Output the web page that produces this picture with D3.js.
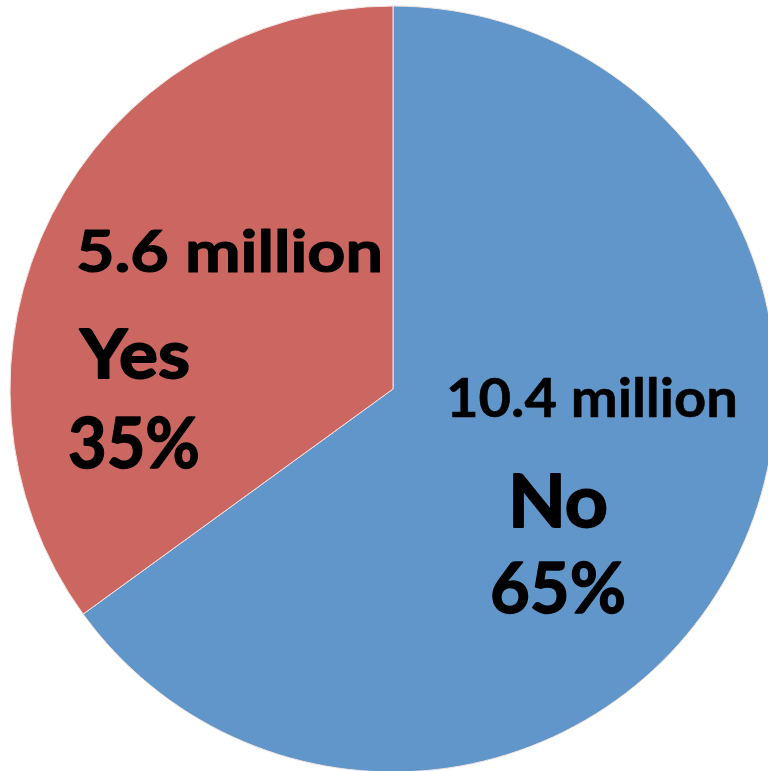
<!DOCTYPE html>
<html>
<head>
<meta charset="utf-8">
<script src="https://cdn.jsdelivr.net/npm/d3@7"></script>
<style>
  html, body { margin: 0; padding: 0; background: #fff; }
  svg text { font-family: Lato, "Open Sans", sans-serif; font-weight: 700; fill: #000; stroke: #000; stroke-linejoin: round; }
</style>
</head>
<body>
<svg id="chart" width="768" height="771"></svg>
<script>
// Answer categories, counts (millions) and share labels
const categories = ["No", "Yes"];
const millions = [10.4, 5.6];
const percentLabels = ["65%", "35%"];
const countLabels = ["10.4 million", "5.6 million"];
const colors = ["#6096C9", "#CC6660"];

const svg = d3.select("#chart");
const cx = 393, cy = 389, radius = 383;

const g = svg.append("g").attr("transform", `translate(${cx},${cy})`);

const pie = d3.pie().sort(null).value(d => d.value);
const arc = d3.arc().innerRadius(0).outerRadius(radius);

const data = categories.map((c, i) => ({ name: c, value: millions[i], pct: percentLabels[i], count: countLabels[i], color: colors[i] }));

g.selectAll("path.slice")
  .data(pie(data))
  .join("path")
  .attr("class", "slice")
  .attr("d", arc)
  .attr("fill", d => d.data.color)
  .attr("stroke", "#f4e4e4")
  .attr("stroke-width", 1);

// Label blocks relative to the pie centre: [x, baseline, font size, text width, outline weight]
const labelLayout = {
  No:  { count: [199, 28, 54, 292, 0.6], name: [165, 138, 72, 100, 1.8], pct: [165, 224, 71, 136, 1.4] },
  Yes: { count: [-163.5, -117, 58, 307, 1.2], name: [-258, -11, 67, 110, 1.8], pct: [-259, 79, 71, 132, 1.4] }
};

data.forEach(d => {
  const L = labelLayout[d.name];
  [["count", d.count], ["name", d.name], ["pct", d.pct]].forEach(([k, txt]) => {
    const [x, y, size, w, sw] = L[k];
    g.append("text")
      .attr("x", x)
      .attr("y", y)
      .attr("text-anchor", "middle")
      .attr("textLength", w)
      .attr("lengthAdjust", "spacingAndGlyphs")
      .style("font-size", size + "px")
      .style("stroke-width", sw)
      .text(txt);
  });
});
</script>
</body>
</html>
